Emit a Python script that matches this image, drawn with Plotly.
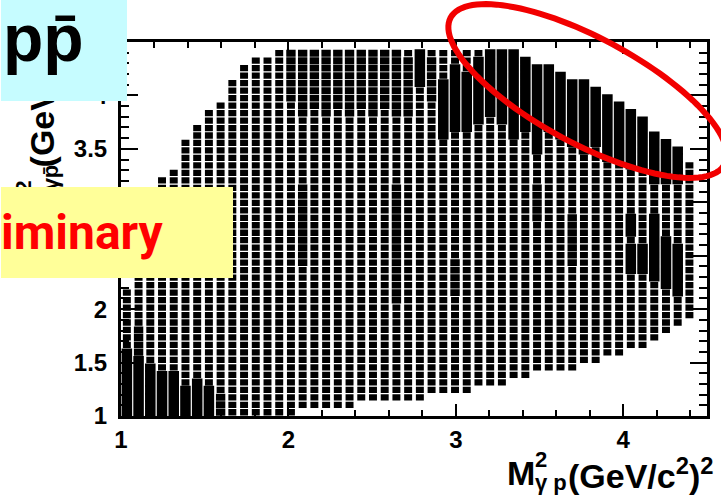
import math
import plotly.graph_objects as go

# ---------------- data ----------------
X_RANGE = [1.0, 4.5]
Y_RANGE = [1.0, 4.5]
BIN = 0.07  # 50 x 50 bins on [1, 4.5]

x_tick_vals = [1, 2, 3, 4]
x_tick_text = ["1", "2", "3", "4"]
y_tick_vals = [1, 1.5, 2, 2.5, 3, 3.5, 4]
y_tick_text = ["1", "1.5", "2", "2.5", "3", "3.5", "4"]

# lowest / highest populated y-bin for every x-bin (columns 0..48)
col_lo = [0, 0, 0, 0, 0, 0, 0, 0, 0, 0, 0, 0, 0, 0, 0,
          1, 1, 1, 1, 1,
          2, 2, 2, 2, 2, 2,
          3, 3, 3, 3,
          4, 4, 4,
          5, 5,
          6, 6, 6, 6,
          7, 7,
          8, 8,
          9, 9,
          10, 11, 12, 13]
col_hi = [16, 23, 28, 31, 32, 36, 38, 40, 41, 44, 46, 47, 47,
          48, 48, 48, 48, 48, 48, 48, 48, 48, 48, 48,
          48, 48, 48, 48, 48, 48, 48, 48, 48, 48,
          47, 46, 46, 45, 44, 44, 43, 42, 41, 40, 39, 37, 36, 35, 33]

# regions with larger box content: (column, first row, last row, level)
# level 1 = low, 2 = typical, 3 = high, 4 = saturated
dense_cells = [
    # bottom-left corner
    (0, 0, 8, 4), (1, 0, 7, 4), (2, 0, 6, 4), (3, 0, 5, 4), (4, 0, 5, 4),
    (5, 0, 3, 4), (6, 0, 4, 4), (7, 0, 3, 4), (8, 0, 2, 3), (1, 8, 11, 3),
    # band along the upper edge
    (14, 42, 48, 3), (15, 40, 48, 3), (16, 41, 48, 3), (17, 40, 48, 3),
    (18, 41, 48, 3), (19, 40, 48, 3), (20, 41, 48, 3), (21, 40, 48, 3),
    (22, 41, 48, 3), (23, 40, 48, 3), (24, 40, 47, 3), (25, 44, 48, 4),
    (26, 42, 47, 3), (27, 37, 44, 4), (28, 38, 46, 4), (29, 38, 45, 4),
    (30, 39, 47, 4), (31, 40, 48, 4), (32, 39, 48, 4), (33, 37, 48, 4),
    (34, 38, 47, 4), (35, 35, 46, 4), (36, 38, 46, 4), (37, 37, 45, 4),
    (38, 36, 44, 4), (39, 35, 44, 4), (40, 36, 43, 4), (41, 34, 42, 4),
    (42, 34, 41, 4), (43, 33, 40, 4), (44, 33, 39, 4), (45, 31, 37, 4),
    (46, 31, 36, 4), (47, 31, 35, 4),
    # streak on the right side
    (43, 19, 22, 4), (43, 24, 26, 4), (44, 19, 22, 4),
    (45, 18, 26, 4), (46, 17, 23, 4), (47, 16, 22, 4),
    # a few denser chains in the middle
    (15, 20, 30, 3), (23, 15, 30, 3), (28, 16, 20, 3), (35, 26, 30, 3),
    (38, 20, 26, 3),
]

# ---------------- build the box histogram ----------------
box_size = {1: (0.45, 0.60), 2: (0.68, 0.84), 3: (0.80, 0.92), 4: (0.90, 1.06)}

level = {}
for c, r0, r1, lv in dense_cells:
    for r in range(r0, r1 + 1):
        level[(c, r)] = lv

xs, ys = [], []
for c in range(len(col_lo)):
    for r in range(col_lo[c], col_hi[c] + 1):
        wf, hf = box_size[level.get((c, r), 2)]
        xc = X_RANGE[0] + (c + 0.5) * BIN
        yc = Y_RANGE[0] + (r + 0.5) * BIN
        hw, hh = BIN * wf / 2, BIN * hf / 2
        xs += [xc - hw, xc + hw, xc + hw, xc - hw, xc - hw, None]
        ys += [yc - hh, yc - hh, yc + hh, yc + hh, yc - hh, None]

fig = go.Figure()
fig.add_trace(go.Scatter(x=xs, y=ys, mode="lines", fill="toself",
                         fillcolor="black", line=dict(width=0, color="black"),
                         hoverinfo="skip", showlegend=False))

# ---------------- layout ----------------
W, H = 721, 499
ML, MR, MT, MB = 121, 11, 42, 83
PW, PH = W - ML - MR, H - MT - MB


def px2x(px):
    return (px - ML) / PW


def py2y(py):
    return (MT + PH - py) / PH


tickfont = dict(family="Liberation Sans, Arial, sans-serif", size=24,
                color="black", weight="bold")

fig.update_layout(
    width=W, height=H,
    margin=dict(l=ML, r=MR, t=MT, b=MB, pad=0),
    paper_bgcolor="white", plot_bgcolor="white",
    showlegend=False,
    xaxis=dict(range=X_RANGE, tickmode="array", tickvals=x_tick_vals,
               ticktext=x_tick_text, ticks="inside", ticklen=12, tickwidth=2,
               tickcolor="black", showline=True, linewidth=3, linecolor="black",
               mirror="allticks", showgrid=False, zeroline=False,
               tickfont=tickfont, ticklabelstandoff=0,
               minor=dict(tick0=1, dtick=0.2, ticks="inside", ticklen=6,
                          tickwidth=2, tickcolor="black", showgrid=False)),
    yaxis=dict(range=Y_RANGE, tickmode="array", tickvals=y_tick_vals,
               ticktext=y_tick_text, ticks="inside", ticklen=17, tickwidth=2,
               tickcolor="black", showline=True, linewidth=3, linecolor="black",
               mirror="allticks", showgrid=False, zeroline=False,
               tickfont=tickfont, ticklabelstandoff=6,
               minor=dict(tick0=1, dtick=0.1, ticks="inside", ticklen=8,
                          tickwidth=2, tickcolor="black", showgrid=False)),
)

# red ellipse around the upper-right band
cx, cy, ea, eb, th = 590, 91, 156, 53, math.radians(28)
pts = []
for k in range(121):
    t = 2 * math.pi * k / 120
    ex = cx + ea * math.cos(t) * math.cos(th) - eb * math.sin(t) * math.sin(th)
    ey = cy + ea * math.cos(t) * math.sin(th) + eb * math.sin(t) * math.cos(th)
    pts.append(f"{px2x(ex):.5f},{py2y(ey):.5f}")
fig.add_shape(type="path", xref="paper", yref="paper",
              path="M " + " L ".join(pts) + " Z",
              line=dict(color="#F20000", width=6), layer="above")

bold = "Liberation Sans, Arial, sans-serif"
ann = []
# x-axis title
ann.append(dict(text="<b>M</b>", x=px2x(507), y=py2y(473), xanchor="left",
                yanchor="middle", font=dict(family=bold, size=34, color="black")))
ann.append(dict(text="<b>2</b>", x=px2x(535), y=py2y(459), xanchor="left",
                yanchor="middle", font=dict(family=bold, size=22, color="black")))
ann.append(dict(text="<b>γ p</b>", x=px2x(535), y=py2y(482), xanchor="left",
                yanchor="middle", font=dict(family=bold, size=22, color="black")))
ann.append(dict(text="<b>(GeV/c<sup>2</sup>)<sup>2</sup></b>", x=px2x(719),
                y=py2y(473), xanchor="right", yanchor="middle",
                font=dict(family=bold, size=34, color="black")))
# y-axis title (rotated), partly hidden by the label boxes
ann.append(dict(text="<b>M</b>", x=px2x(38), y=py2y(209), textangle=-90,
                xanchor="center", yanchor="middle",
                font=dict(family=bold, size=34, color="black")))
ann.append(dict(text="<b>2</b>", x=px2x(22), y=py2y(187), textangle=-90,
                xanchor="center", yanchor="middle",
                font=dict(family=bold, size=22, color="black")))
ann.append(dict(text="<b>γp\u0304</b>", x=px2x(50), y=py2y(177), textangle=-90,
                xanchor="center", yanchor="middle",
                font=dict(family=bold, size=22, color="black")))
ann.append(dict(text="<b>(GeV/c<sup>2</sup>)<sup>2</sup></b>", x=px2x(38),
                y=py2y(94), textangle=-90, xanchor="center", yanchor="middle",
                font=dict(family=bold, size=34, color="black")))
# cyan label box and its text
ann.append(dict(text=" ", x=px2x(0), y=py2y(0), xanchor="left",
                yanchor="top", width=126, height=101, align="left",
                valign="middle", bgcolor="#C6FCFF", borderpad=0, borderwidth=0,
                font=dict(family=bold, size=20, color="black")))
ann.append(dict(text="<b>pp\u0304</b>", x=px2x(1), y=py2y(38), xanchor="left",
                yanchor="middle", borderpad=0,
                font=dict(family=bold, size=66, color="black")))
# yellow label box
ann.append(dict(text="<b>iminary</b>", x=px2x(0), y=py2y(187), xanchor="left",
                yanchor="top", width=232, height=91, align="left",
                valign="middle", bgcolor="#FFFF99", borderpad=0, borderwidth=0,
                font=dict(family="Roboto, sans-serif", size=48, color="#FF0000")))
for a in ann:
    a.update(xref="paper", yref="paper", showarrow=False)
fig.update_layout(annotations=ann)

fig.write_html("out.html", config={"displayModeBar": False},
               post_script="document.body.style.margin='0px';"
                           "document.body.style.padding='0px';")
